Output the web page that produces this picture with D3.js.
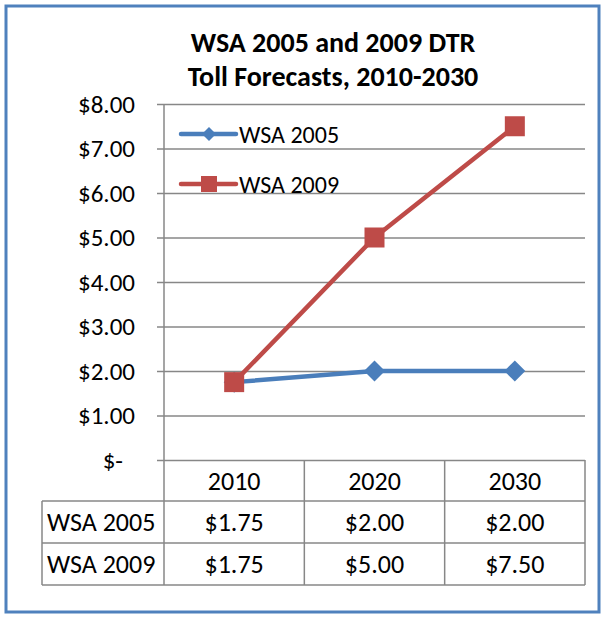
<!DOCTYPE html>
<html>
<head>
<meta charset="utf-8">
<script src="https://cdn.jsdelivr.net/npm/d3@7"></script>
<style>
  html, body { margin: 0; padding: 0; background: #fff; }
  text { font-family: Carlito, Lato, "Open Sans", sans-serif; fill: #000; }
</style>
</head>
<body>
<svg id="chart" width="604" height="618"></svg>
<script>
const titleLines = ["WSA 2005 and 2009 DTR", "Toll Forecasts, 2010-2030"];
const categories = ["2010", "2020", "2030"];
const seriesNames = ["WSA 2005", "WSA 2009"];
const wsa2005 = [1.75, 2.00, 2.00];
const wsa2009 = [1.75, 5.00, 7.50];
const yTicks = [0, 1, 2, 3, 4, 5, 6, 7, 8];
const seriesColors = ["#4A7EBB", "#BE4B48"];

const series = [
  { name: seriesNames[0], values: wsa2005, color: seriesColors[0], marker: "diamond" },
  { name: seriesNames[1], values: wsa2009, color: seriesColors[1], marker: "square" }
];

const svg = d3.select("#chart");
const grid = "#878787";

// outer border
svg.append("rect").attr("x", 6).attr("y", 6).attr("width", 593).attr("height", 606)
  .attr("fill", "#fff").attr("stroke", "#4F81BD").attr("stroke-width", 3);

// title
svg.append("text").attr("x", 333).attr("y", 52).attr("text-anchor", "middle")
  .style("font-weight", "bold").style("font-size", "28px").text(titleLines[0]);
svg.append("text").attr("x", 333).attr("y", 86).attr("text-anchor", "middle")
  .style("font-weight", "bold").style("font-size", "28px").text(titleLines[1]);

const pLeft = 164, pRight = 585, pTop = 104, pBottom = 460;
const x = d3.scaleBand().domain(categories).range([pLeft, pRight]);
const y = d3.scaleLinear().domain([0, 8]).range([pBottom, pTop]);

// gridlines + y axis
const yAxis = d3.axisLeft(y).tickValues(yTicks).tickSize(-(pRight - pLeft)).tickPadding(0)
  .tickFormat(d => d === 0 ? "$-" : "$" + d3.format(".2f")(d));
const gAxis = svg.append("g").attr("transform", `translate(${pLeft},0)`).call(yAxis);
gAxis.select(".domain").remove();
gAxis.selectAll(".tick line").attr("stroke", grid).attr("stroke-width", 1.5).attr("x1", -7);
gAxis.selectAll(".tick text").attr("x", -29).style("font-size", "25px")
  .attr("dx", d => d === 0 ? -12 : 0).attr("dy", "0.32em").attr("fill", "#000");

// vertical axis line (extends through table)
svg.append("line").attr("x1", pLeft).attr("x2", pLeft).attr("y1", pTop).attr("y2", 585)
  .attr("stroke", grid).attr("stroke-width", 1.5);

// table
const rowBottom = 585;
const tableLeft = 42;
[501, 543, 585].forEach(yy => {
  svg.append("line").attr("x1", tableLeft).attr("x2", pRight).attr("y1", yy).attr("y2", yy)
    .attr("stroke", grid).attr("stroke-width", 1.5);
});
svg.append("line").attr("x1", tableLeft).attr("x2", tableLeft).attr("y1", 501).attr("y2", rowBottom)
  .attr("stroke", grid).attr("stroke-width", 1.5);
categories.forEach(c => {
  const xr = x(c) + x.bandwidth();
  svg.append("line").attr("x1", xr).attr("x2", xr).attr("y1", pBottom).attr("y2", rowBottom)
    .attr("stroke", grid).attr("stroke-width", 1.5);
});
svg.selectAll("text.cat").data(categories).enter().append("text")
  .attr("x", d => x(d) + x.bandwidth() / 2).attr("y", 490).attr("text-anchor", "middle")
  .style("font-size", "26px").text(d => d);
series.forEach((s, i) => {
  const yy = 531 + i * 42;
  svg.append("text").attr("x", 47).attr("y", yy).style("font-size", "26px").text(s.name);
  categories.forEach((c, j) => {
    svg.append("text").attr("x", x(c) + x.bandwidth() / 2).attr("y", yy).attr("text-anchor", "middle")
      .style("font-size", "26px").text("$" + d3.format(".2f")(s.values[j]));
  });
});

// lines + markers
const line = d3.line().x((d, i) => x(categories[i]) + x.bandwidth() / 2).y(d => y(d));
series.forEach(s => {
  svg.append("path").datum(s.values).attr("d", line).attr("fill", "none")
    .attr("stroke", s.color).attr("stroke-width", 4.5).attr("stroke-linejoin", "round");
});
function drawMarker(g, type, cx, cy, color, size) {
  if (type === "square") {
    g.append("rect").attr("x", cx - size / 2).attr("y", cy - size / 2).attr("width", size).attr("height", size)
      .attr("fill", color);
  } else {
    const h = size / 2;
    g.append("path").attr("d", `M${cx},${cy - h}L${cx + h},${cy}L${cx},${cy + h}L${cx - h},${cy}Z`).attr("fill", color);
  }
}
const gm = svg.append("g");
series.forEach(s => {
  s.values.forEach((v, i) => {
    drawMarker(gm, s.marker, x(categories[i]) + x.bandwidth() / 2, y(v), s.color, s.marker === "square" ? 20 : 21);
  });
});

// legend
series.forEach((s, i) => {
  const ly = 134 + i * 50;
  svg.append("line").attr("x1", 181).attr("x2", 236).attr("y1", ly).attr("y2", ly)
    .attr("stroke", s.color).attr("stroke-width", 4.5).attr("stroke-linecap", "round");
  drawMarker(svg, s.marker, 209, ly, s.color, s.marker === "square" ? 16 : 14);
  svg.append("text").attr("x", 239).attr("y", ly + 9).style("font-size", "24px").text(s.name);
});
</script>
</body>
</html>
